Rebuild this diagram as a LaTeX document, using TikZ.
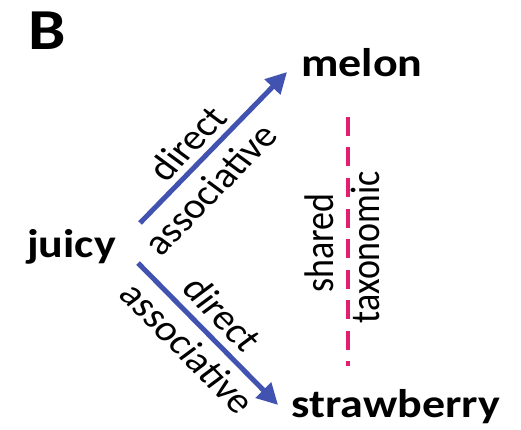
\documentclass[tikz,border=0pt]{standalone}
\usepackage{fontspec}
\setmainfont{Carlito}
\usetikzlibrary{arrows.meta}
\definecolor{arrowblue}{RGB}{66,82,176}
\definecolor{taxpink}{RGB}{226,30,112}
\begin{document}
\begin{tikzpicture}[x=0.869565pt, y=-1pt, xscale=1.15,
  word/.style={font=\fontsize{40}{40}\selectfont\bfseries, inner sep=0pt, anchor=base, transform shape},
  lab/.style={font=\fontsize{36}{36}\selectfont, inner sep=0pt, transform shape},
  arr/.style={draw=arrowblue, line width=5pt, -{Triangle[length=21pt,width=21pt]}},
  taxline/.style={draw=taxpink, line width=4pt, dash pattern=on 19pt off 11.5pt}]
\useasboundingbox (0,0) rectangle (521,430);
\node[word, font=\fontsize{58}{58}\selectfont\bfseries] (B) at (47,50) {B};
\node[word] (melon) at (362,77) {melon};
\node[word] (juicy) at (71.5,257) {juicy};
\node[word] (straw) at (396,417) {strawberry};
\coordinate (u0) at (140,223);
\coordinate (u1) at (287,72);
\coordinate (l0) at (138,263);
\coordinate (l1) at (278,405);
\draw[arr] (u0) -- (u1);
\draw[arr] (l0) -- (l1);
\node[lab, rotate=49.6] (d1) at (187,143) {direct};
\node[lab, rotate=49.6] (a1) at (210,189) {associative};
\node[lab, rotate=-49.4] (d2) at (222.5,314) {direct};
\node[lab, rotate=-49.4] (a2) at (188,348) {associative};
\node[lab, rotate=90, anchor=base] (sh) at (333,243) {shared};
\node[lab, rotate=90, anchor=base] (tx) at (379,247) {taxonomic};
\coordinate (t0) at (348,117);
\coordinate (t1) at (348,366);
\draw[taxline] (t0) -- (t1);
\end{tikzpicture}
\end{document}
